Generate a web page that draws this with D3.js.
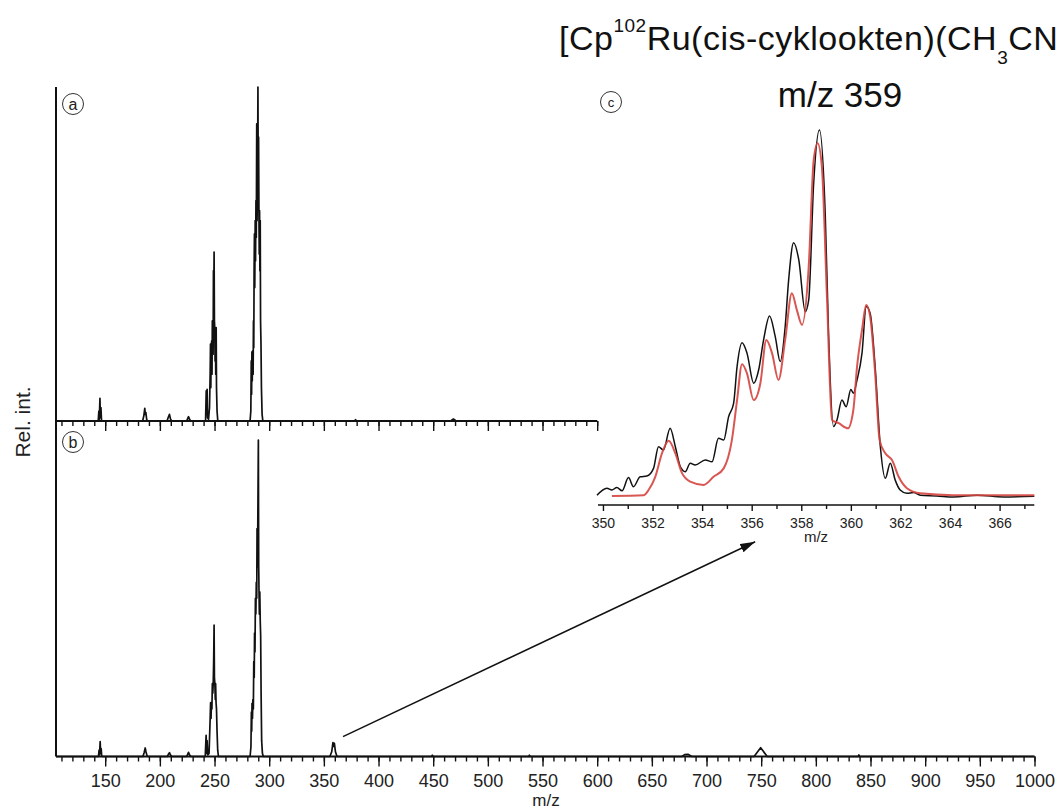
<!DOCTYPE html>
<html><head><meta charset="utf-8">
<script src="https://cdn.jsdelivr.net/npm/d3@7"></script>
<style>
html,body{margin:0;padding:0;background:#fff;}
svg{display:block;font-family:"Liberation Sans",Arial,Helvetica,sans-serif;}
</style></head><body>
<svg id="chart" width="1058" height="809"></svg>
<script>
// ---- Full-range spectra: [m/z, relative intensity %] ----
const spectrumA = [
  [105,0],[143.6,0],[144.2,3],[144.6,0.5],[145.2,6.8],[145.6,1],[146.1,4],[146.6,0.3],[147.2,0],
  [184.2,0],[185.3,1.5],[186.2,3.8],[186.7,2],[187.2,2.5],[188,0.3],[189,0],
  [206.5,0],[207.8,1.2],[208.8,2],[209.8,0.5],[211,0],
  [224.5,0],[225.5,0.8],[226.2,1.3],[227.3,0.4],[228.5,0],
  [241.8,0],[242.4,9],[242.7,2],[243.2,9.5],[243.6,1],[244.5,0.5],[245.4,4],[246,14],[246.3,23],[246.6,10],
  [247,22],[247.4,24],[247.7,14],[248,30],[248.4,30],[248.7,20],[249,45],[249.3,35],[249.6,50.6],[249.9,30],
  [250.2,28],[250.5,18],[250.8,28],[251.1,14],[251.5,28],[251.8,10],[252.3,3],[253,0],
  [282.5,0],[283.2,3],[283.6,18],[283.9,8],[284.2,20.7],[284.5,12],[284.9,21],[285.3,14],[285.6,30],[285.9,22],
  [286.2,45],[286.5,56],[286.8,40],[287.2,60],[287.5,48],[287.9,66],[288.2,55],[288.6,89],[288.9,60],[289.3,70],
  [289.7,100],[290,70],[290.3,85],[290.6,63],[290.9,50],[291.2,63],[291.5,45],[291.8,60],[292.1,30],[292.5,23],
  [292.9,10],[293.5,2],[294.2,0],
  [378,0],[379,0.4],[380,0],[466,0],[468.5,0.6],[471,0],[600,0]
];

const spectrumB = [
  [105,0],[143.8,0],[144.4,2],[144.8,0.5],[145.4,4.7],[145.8,1],[146.3,2.5],[146.8,0.2],[147.4,0],
  [184.5,0],[185.6,1.2],[186.6,2.7],[187.3,1.5],[188.3,0.2],[189.2,0],
  [206.8,0],[208,0.8],[208.8,1.2],[209.8,0.4],[211,0],
  [224.5,0],[225.6,0.8],[226.2,1.3],[227.3,0.4],[228.5,0],
  [241.5,0],[242.3,6.7],[242.8,1],[243.2,5],[243.8,0.5],[245,1],[246,12],[246.4,17],[246.8,12],[247.2,17],
  [247.6,15],[248,23],[248.4,20],[248.8,23],[249.2,30],[249.6,41.5],[249.9,25],[250.3,23],[250.7,18],[251,23],
  [251.4,17],[251.8,15],[252.3,8],[252.9,2],[253.6,0],
  [282.5,0],[283.3,3],[283.7,14],[284,8],[284.3,16.8],[284.7,12],[285.1,18],[285.5,15],[285.9,30],[286.3,25],
  [286.6,39],[287,33],[287.4,50],[287.8,45],[288.2,55],[288.6,50],[288.9,72],[289.3,60],[289.7,80],[290.1,100],
  [290.4,60],[290.7,52],[291,45],[291.4,52],[291.8,43],[292.2,38],[292.6,20],[293.1,5],[293.8,1],[294.6,0],
  [355.5,0],[357.2,1.5],[358.3,4.4],[358.9,3.2],[359.6,4.2],[360.6,1.5],[362,0],
  [448.6,0],[449.2,0.4],[449.8,0],[537.4,0],[538,0.4],[538.6,0],
  [677.5,0],[680,0.6],[683,0.7],[686.5,0],
  [743.5,0],[749.5,2.8],[755.5,0],
  [838.8,0],[839.4,0.5],[840,0],[1000,0]
];

// ---- Isotope pattern of m/z 359: measured (black) and simulated (red) ----
const isoMeasured = [
  [349.76,0.5],[350.16,2.4],[350.36,1.9],[350.56,2.6],[350.77,1.7],[351.03,5.3],[351.23,2.8],[351.5,5.5],
  [351.77,5.7],[352.04,7.8],[352.24,13.7],[352.44,12.8],[352.71,18.7],[352.92,13.7],[353.12,8.3],[353.32,6.9],
  [353.52,9.2],[353.72,8.7],[354.13,10.1],[354.4,9.6],[354.66,16],[354.87,15.5],[355.07,21.9],[355.27,25.5],
  [355.41,35.5],[355.61,42],[355.81,39.2],[356.08,31],[356.28,34.6],[356.48,42.8],[356.72,49.3],[356.95,43.7],
  [357.15,36.9],[357.35,46.4],[357.49,59.1],[357.69,69.3],[357.9,64.6],[358.16,50.5],[358.3,53.7],[358.5,85.5],
  [358.73,100],[358.97,76.4],[359.1,44.6],[359.3,19.2],[359.44,21],[359.64,26.4],[359.81,24.6],[360,29.3],
  [360.1,28.3],[360.25,31.9],[360.45,39.2],[360.62,51.9],[360.78,50],[360.98,35.5],[361.19,13.7],[361.39,5.1],
  [361.59,9.2],[361.79,4.6],[361.99,1.9],[362.26,1],[362.53,1.2],[362.8,0.5],[363.47,0.3],[364.14,0],
  [365.09,0.5],[366.16,0],[367.4,0.2]
];

const isoSimulated = [
  [350.36,0.3],[351.64,0.5],[351.84,1.9],[352.11,5.5],[352.38,11.9],[352.65,15.3],[352.92,11.9],[353.19,6.5],
  [353.52,4.2],[354.06,3.3],[354.46,5.5],[354.87,7.8],[355.2,15.5],[355.41,26.4],[355.61,36.2],[355.81,33.7],
  [356.08,26.4],[356.35,31],[356.59,42.8],[356.82,39.2],[357.08,31.9],[357.35,42.8],[357.62,55.5],[357.82,51],
  [358.03,46.9],[358.3,62.8],[358.5,91.8],[358.66,96.4],[358.83,90],[359.04,53.7],[359.24,21],[359.51,20.1],
  [359.88,18.7],[360.1,23.7],[360.25,35.5],[360.45,45.5],[360.62,52.3],[360.78,49.1],[360.98,33.7],[361.16,15.5],
  [361.39,11.9],[361.66,10.1],[361.93,5.5],[362.26,2.4],[362.8,1],[364.14,0.5],[367.4,0.5]
];

// ---- Axis ticks ----
const mainMajorTicks = d3.range(150, 1001, 50);
const mainMinorTicks = d3.range(110, 1001, 10);
const panelAMajorTicks = d3.range(150, 601, 50);
const panelAMinorTicks = d3.range(110, 601, 10);
const insetMajorTicks = [350, 352, 354, 356, 358, 360, 362, 364, 366];
const insetMinorTicks = [351, 353, 355, 357, 359, 361, 363, 365, 367];

// Arrow from the m/z 359 peak in (b) to the zoomed pattern (c): [m/z, intensity]
const arrowFrom = [367.5, 6.3];
const arrowTo = [356.14, -12.2];

// ---- Scales ----
const svg = d3.select("#chart");
const xMain = d3.scaleLinear().domain([105, 1000]).range([56, 1034.5]);
const xA = d3.scaleLinear().domain([105, 600]).range([56, xMain(600)]);
const yA = d3.scaleLinear().domain([0, 100]).range([421, 87]);
const yB = d3.scaleLinear().domain([0, 100]).range([756.5, 440]);
const xIn = d3.scaleLinear().domain([349.8, 367.4]).range([598, 1034.3]);
const yIn = d3.scaleLinear().domain([0, 100]).range([497, 130]);

const ink = "#111";

// Ruler-style axis: domain line + minor + major ticks
function ruler(scale, y, majors, minors, majorLen, minorLen, labelled, fontSize, pad, lw) {
  const g = svg.append("g").attr("transform", `translate(0,${y})`);
  const minor = g.append("g").call(d3.axisBottom(scale).tickValues(minors).tickSize(minorLen).tickFormat(""));
  minor.select(".domain").remove();
  const major = g.append("g").call(d3.axisBottom(scale).tickValues(majors).tickSize(majorLen)
      .tickPadding(pad).tickFormat(labelled ? d3.format("d") : ""));
  major.select(".domain").remove();
  g.selectAll(".tick line").attr("stroke", ink).attr("stroke-width", 1.4);
  g.selectAll(".tick text").attr("fill", "#222").attr("font-size", fontSize)
    .attr("font-family", "Liberation Sans, Arial, sans-serif");
  const r = scale.range();
  g.append("line").attr("x1", r[0]).attr("x2", r[1]).attr("y1", 0).attr("y2", 0)
    .attr("stroke", ink).attr("stroke-width", lw);
  return g;
}

// ---- Panel (a) and (b) spectra ----
const lineA = d3.line().x(d => xA(d[0])).y(d => yA(d[1]));
const lineB = d3.line().x(d => xMain(d[0])).y(d => yB(d[1]));

svg.append("path").datum(spectrumA).attr("d", lineA)
  .attr("fill", "none").attr("stroke", ink).attr("stroke-width", 1.7).attr("stroke-linejoin", "round");
svg.append("path").datum(spectrumB).attr("d", lineB)
  .attr("fill", "none").attr("stroke", ink).attr("stroke-width", 1.7).attr("stroke-linejoin", "round");

ruler(xA, yA(0), panelAMajorTicks, panelAMinorTicks, 10, 5, false, 18, 8, 2);
ruler(xMain, yB(0), mainMajorTicks, mainMinorTicks, 10, 5, true, 18, 8, 2);

// shared vertical intensity axis
svg.append("line").attr("x1", xMain(105)).attr("x2", xMain(105))
  .attr("y1", yA(100)).attr("y2", yB(0)).attr("stroke", ink).attr("stroke-width", 2);

svg.append("text").attr("x", 546).attr("y", 806).attr("text-anchor", "middle")
  .attr("font-size", 17).attr("fill", "#222").text("m/z");

svg.append("text").attr("transform", "translate(29.5,422) rotate(-90)")
  .attr("text-anchor", "middle").attr("font-size", 21).attr("fill", "#222").text("Rel. int.");

// ---- Inset (c) ----
const lineIn = d3.line().x(d => xIn(d[0])).y(d => yIn(d[1])).curve(d3.curveMonotoneX);
svg.append("path").datum(isoMeasured).attr("d", lineIn)
  .attr("fill", "none").attr("stroke", ink).attr("stroke-width", 1.5);
svg.append("path").datum(isoSimulated).attr("d", lineIn)
  .attr("fill", "none").attr("stroke", "#d4453f").attr("stroke-width", 2).attr("stroke-opacity", 0.9);

ruler(xIn, 505, insetMajorTicks, insetMinorTicks, 6, 4, true, 14, 7, 1.6);
svg.append("text").attr("x", 816).attr("y", 542).attr("text-anchor", "middle")
  .attr("font-size", 15).attr("fill", "#222").text("m/z");

// ---- Panel letters ----
const letters = [["a", 73, 104], ["b", 73, 442], ["c", 611, 102]];
letters.forEach(([t, cx, cy]) => {
  svg.append("circle").attr("cx", cx).attr("cy", cy).attr("r", 10.5)
    .attr("fill", "none").attr("stroke", "#333").attr("stroke-width", 1);
  svg.append("text").attr("x", cx).attr("y", cy).attr("dy", "0.35em").attr("text-anchor", "middle")
    .attr("font-size", t === "c" ? 13 : 16).attr("fill", "#222").text(t);
});

// ---- Arrow ----
svg.append("defs").append("marker").attr("id", "head")
  .attr("viewBox", "0 0 15 9").attr("refX", 15).attr("refY", 4.5)
  .attr("markerWidth", 15).attr("markerHeight", 9).attr("markerUnits", "userSpaceOnUse")
  .attr("orient", "auto")
  .append("path").attr("d", "M0,0L15,4.5L0,9z").attr("fill", ink);
svg.append("line")
  .attr("x1", xMain(arrowFrom[0])).attr("y1", yB(arrowFrom[1]))
  .attr("x2", xIn(arrowTo[0])).attr("y2", yIn(arrowTo[1]))
  .attr("stroke", ink).attr("stroke-width", 1.5).attr("marker-end", "url(#head)");

// ---- Titles ----
const title = svg.append("text").attr("x", 559).attr("y", 50).attr("font-size", 34)
  .attr("letter-spacing", 0.5).attr("fill", "#111");
title.append("tspan").text("[Cp");
title.append("tspan").attr("font-size", 19).attr("dy", -18).text("102");
title.append("tspan").attr("dy", 18).text("Ru(cis-cyklookten)(CH");
title.append("tspan").attr("font-size", 19).attr("dy", 14).text("3");
title.append("tspan").attr("dy", -14).text("CN");

svg.append("text").attr("x", 840).attr("y", 107).attr("text-anchor", "middle")
  .attr("font-size", 35).attr("fill", "#111").text("m/z 359");
</script>
</body></html>
